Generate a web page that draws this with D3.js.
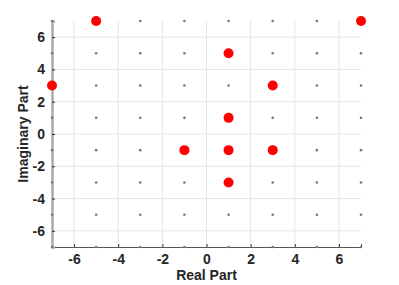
<!DOCTYPE html>
<html>
<head>
<meta charset="utf-8">
<script src="https://d3js.org/d3.v7.min.js"></script>
<style>
  body { margin: 0; background: #fff; }
  text { font-family: "Liberation Sans", Arial, sans-serif; font-weight: bold; fill: #262626; }
</style>
</head>
<body>
<div id="chart"></div>
<script>
// reference constellation levels (64-QAM grid)
var levels = [-7, -5, -3, -1, 1, 3, 5, 7];
// received symbols
var rxReal = [-5, 7, 1, -7, 3, 1, -1, 1, 3, 1];
var rxImag = [7, 7, 5, 3, 3, 1, -1, -1, -1, -3];
var ticks = [-6, -4, -2, 0, 2, 4, 6];

var width = 399, height = 285;
var margin = {left: 52, right: 38, top: 21, bottom: 38};

var svg = d3.select('#chart').append('svg')
  .attr('width', width)
  .attr('height', height);

var x = d3.scaleLinear().domain([-7, 7]).range([margin.left, width - margin.right]);
var y = d3.scaleLinear().domain([-7, 7]).range([height - margin.bottom, margin.top]);

var fmt = function (d) { return String(d); };

// grid
svg.append('g').selectAll('line').data(ticks).enter().append('line')
  .attr('x1', function (d) { return x(d); }).attr('x2', function (d) { return x(d); })
  .attr('y1', y(-7)).attr('y2', y(7))
  .attr('stroke', '#e5e5e5').attr('stroke-width', 1);
svg.append('g').selectAll('line').data(ticks).enter().append('line')
  .attr('y1', function (d) { return y(d); }).attr('y2', function (d) { return y(d); })
  .attr('x1', x(-7)).attr('x2', x(7))
  .attr('stroke', '#e5e5e5').attr('stroke-width', 1);

// axes
var xAxis = svg.append('g')
  .attr('transform', 'translate(0,' + y(-7) + ')')
  .call(d3.axisBottom(x).tickValues(ticks).tickSize(-3).tickPadding(7).tickFormat(fmt));
var yAxis = svg.append('g')
  .attr('transform', 'translate(' + x(-7) + ',0)')
  .call(d3.axisLeft(y).tickValues(ticks).tickSize(-3).tickPadding(7).tickFormat(fmt));

xAxis.select('.domain').attr('stroke', '#555').attr('stroke-width', 1);
yAxis.select('.domain').attr('stroke', '#aaa').attr('stroke-width', 2.5);
svg.selectAll('.tick line').attr('stroke', '#333');
svg.selectAll('.tick text')
  .attr('font-size', null)
  .style('font-size', '14px')
  .style('font-family', '"Liberation Sans", Arial, sans-serif')
  .style('font-weight', 'bold')
  .attr('fill', '#262626');

// reference grid points
var grid = [];
levels.forEach(function (re) {
  levels.forEach(function (im) { grid.push([re, im]); });
});
svg.append('g').selectAll('circle').data(grid).enter().append('circle')
  .attr('cx', function (d) { return x(d[0]); })
  .attr('cy', function (d) { return y(d[1]); })
  .attr('r', 1.3)
  .attr('fill', '#777');

// received points
svg.append('g').selectAll('circle').data(rxReal).enter().append('circle')
  .attr('cx', function (d) { return x(d); })
  .attr('cy', function (d, i) { return y(rxImag[i]); })
  .attr('r', 5)
  .attr('fill', '#ff0000');

// labels
svg.append('text')
  .attr('x', (x(-7) + x(7)) / 2).attr('y', 280)
  .attr('text-anchor', 'middle')
  .style('font-size', '14px')
  .text('Real Part');
svg.append('text')
  .attr('transform', 'translate(28,' + (y(-7) + y(7)) / 2 + ') rotate(-90)')
  .attr('text-anchor', 'middle')
  .style('font-size', '14px')
  .text('Imaginary Part');
</script>
</body>
</html>
